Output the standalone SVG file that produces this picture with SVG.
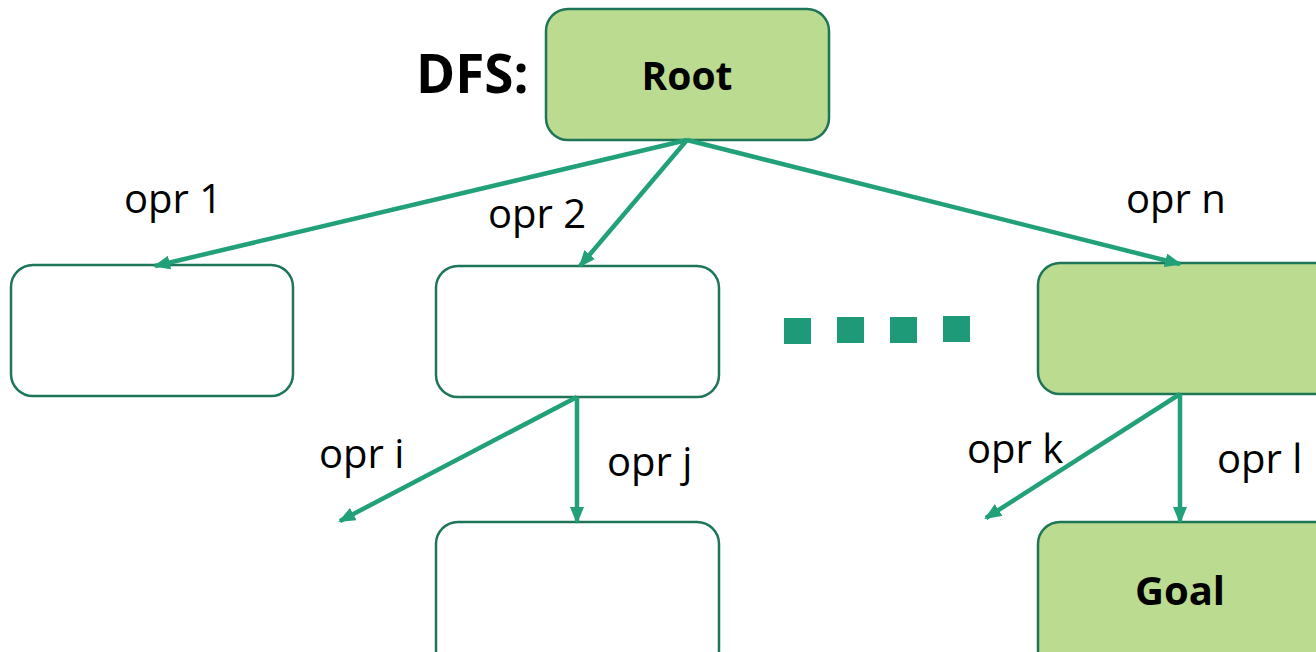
<svg xmlns="http://www.w3.org/2000/svg" width="1316" height="652" viewBox="0 0 1316 652">
<style>
.box{fill:#ffffff;stroke:#1e7557;stroke-width:2.5}
.hl{fill:#bbdb91;stroke:#1e7557;stroke-width:2.5}
.lbl{font-family:"Open Sans","Liberation Sans",sans-serif;font-size:40px;fill:#000}
.bold{font-family:"Open Sans","Liberation Sans",sans-serif;font-weight:bold;fill:#000}
.edge{stroke:#21a07a;stroke-width:4.5;fill:none;marker-end:url(#arr)}
.dot{fill:#1f9a78}
</style>
<defs>
<marker id="arr" viewBox="0 0 17 14" refX="15" refY="7" markerWidth="17" markerHeight="14" markerUnits="userSpaceOnUse" orient="auto">
<path d="M0,0 L17,7 L0,14 z" fill="#21a07a"/>
</marker>
</defs>
<rect width="1316" height="652" fill="#ffffff"/>
<text class="bold" x="416" y="93" font-size="53">DFS:</text>
<g id="root"><rect class="hl" x="546" y="9" width="283" height="131" rx="22"/><text class="bold" x="687" y="90" font-size="39" text-anchor="middle">Root</text></g>
<g id="n1"><rect class="box" x="11" y="265" width="282" height="131" rx="22"/></g>
<g id="n2"><rect class="box" x="436" y="266" width="283" height="131" rx="22"/></g>
<g id="nn"><rect class="hl" x="1038" y="263" width="300" height="131" rx="22"/></g>
<g id="nj"><rect class="box" x="436" y="522" width="283" height="150" rx="22"/></g>
<g id="goal"><rect class="hl" x="1038" y="522" width="300" height="150" rx="22"/><text class="bold" x="1180" y="605" font-size="40" text-anchor="middle">Goal</text></g>
<g id="dots"><rect class="dot" x="784" y="318" width="27" height="26"/><rect class="dot" x="837" y="317" width="27" height="26"/><rect class="dot" x="890" y="317" width="27" height="26"/><rect class="dot" x="943" y="316" width="27" height="26"/></g>
<g id="connectors">
<line class="edge" x1="687" y1="140" x2="155" y2="266"/>
<line class="edge" x1="687" y1="140" x2="580" y2="266"/>
<line class="edge" x1="687" y1="140" x2="1180" y2="264"/>
<line class="edge" x1="577" y1="397" x2="340" y2="521"/>
<line class="edge" x1="577" y1="397" x2="577" y2="522"/>
<line class="edge" x1="1180" y1="394" x2="986" y2="518"/>
<line class="edge" x1="1180" y1="394" x2="1180" y2="522"/>
</g>
<g id="labels">
<text class="lbl" x="124" y="213">opr 1</text>
<text class="lbl" x="488" y="228">opr 2</text>
<text class="lbl" x="1126" y="213">opr n</text>
<text class="lbl" x="319" y="468">opr i</text>
<text class="lbl" x="607" y="476">opr j</text>
<text class="lbl" x="967" y="463">opr k</text>
<text class="lbl" x="1217" y="473">opr l</text>
</g>
</svg>
